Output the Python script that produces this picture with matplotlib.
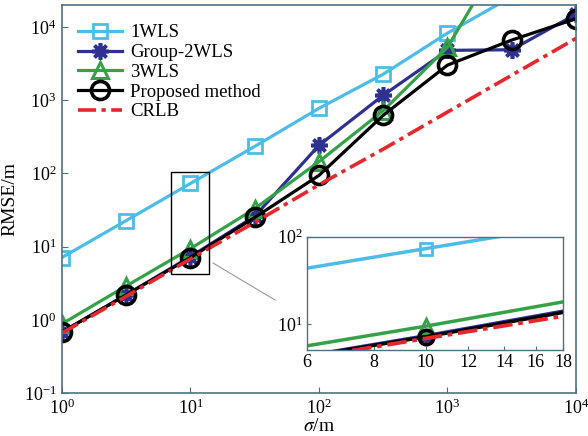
import numpy as np
import matplotlib
matplotlib.use("Agg")
import matplotlib.pyplot as plt
from matplotlib.patches import Rectangle
from matplotlib.lines import Line2D
from matplotlib.ticker import FixedLocator, FixedFormatter, NullLocator

plt.rcParams['font.family'] = ['Liberation Serif', 'DejaVu Serif']
plt.rcParams['mathtext.fontset'] = 'stix'
plt.rcParams['font.size'] = 13

sigma = [1, 3.162, 10, 31.62, 100, 316.2, 1000, 3162, 10000]
rmse_1wls = [7.1, 22.7, 73, 234, 776, 2270, 8270, 26000, 83000]
rmse_g2wls = [0.68, 2.2, 7.3, 26, 242, 1170, 4800, 4900, 15000]
rmse_3wls = [0.88, 2.9, 9.4, 33, 145, 720, 5300, 160000, 1000000]
rmse_prop = [0.68, 2.2, 7.1, 25, 94, 623, 3020, 6640, 13000]
rmse_crlb = [0.66, 2.1, 6.8, 21.5, 70, 215, 690, 2200, 7000]
inset_ticks = [6, 8, 10, 12, 14, 16, 18]

c_1wls = '#4cbde8'
c_g2 = '#2e3192'
c_3wls = '#35a24a'
c_crlb = '#e8262d'
frame_c = '#4f7282'

fig = plt.figure(figsize=(5.88, 4.36), dpi=100)
ax = fig.add_axes([0.1054, 0.0986, 0.8742, 0.8899])


def draw(a, ms=1.0, lw=2.3):
    a.plot(sigma, rmse_1wls, color=c_1wls, lw=lw, marker='s', ms=10 * ms,
           mfc='none', mew=2.0, label='1WLS')
    a.plot(sigma, rmse_g2wls, color=c_g2, lw=lw, marker=(8, 2, 0), ms=12 * ms,
           mew=2.6, label='Group-2WLS')
    a.plot(sigma, rmse_3wls, color=c_3wls, lw=lw, marker='^', ms=12 * ms,
           mfc='none', mew=2.2, label='3WLS')
    a.plot(sigma, rmse_prop, color='black', lw=lw, marker='o', ms=13 * ms,
           mfc='none', mew=2.6, label='Proposed method')
    a.plot(sigma, rmse_crlb, color=c_crlb, lw=lw + 0.3,
           ls=(0, (5, 1.5, 1.2, 1.5)), label='CRLB')


draw(ax)
ax.set_xscale('log')
ax.set_yscale('log')
ax.set_xlim(1, 1e4)
ax.set_ylim(0.1, 2.0e4)
ax.set_xticks([1, 10, 100, 1000, 10000])
ax.set_yticks([0.1, 1, 10, 100, 1000, 10000])
ax.minorticks_off()
ax.tick_params(direction='in', length=4, color=frame_c, pad=4, labelsize=13)
for s in ax.spines.values():
    s.set_color(frame_c)
    s.set_linewidth(1.2)
ax.set_xlabel(r'$\sigma$/m', labelpad=0, fontsize=14)
ax.set_ylabel('RMSE/m', labelpad=4, fontsize=14)

ax.legend(loc='upper left', frameon=False, handlelength=2.35, labelspacing=0.14,
          handletextpad=0.45, borderaxespad=0.3, bbox_to_anchor=(0.005, 0.984),
          fontsize=13.5)

# zoom window around sigma = 10
ax.add_patch(Rectangle((7.1, 4.2), 14 - 7.1, 106 - 4.2, fill=False,
                       ec='black', lw=1.0, zorder=5))
fig.add_artist(Line2D([213 / 588, 275 / 588], [1 - 263 / 436, 1 - 300 / 436],
                      color='#9a9a9a', lw=0.8))

ins = fig.add_axes([0.5216, 0.1972, 0.4359, 0.2599])
draw(ins, ms=0.8, lw=2.5)
ins.set_xscale('log')
ins.set_yscale('log')
ins.set_xlim(6, 18)
ins.set_ylim(5.0, 100)
ins.xaxis.set_major_locator(FixedLocator(inset_ticks))
ins.xaxis.set_major_formatter(FixedFormatter([str(t) for t in inset_ticks]))
ins.xaxis.set_minor_locator(NullLocator())
ins.set_yticks([10, 100])
ins.yaxis.set_minor_locator(NullLocator())
ins.tick_params(direction='in', length=3, color=frame_c, labelsize=13, pad=3)
for s in ins.spines.values():
    s.set_color(frame_c)
    s.set_linewidth(1.0)

fig.savefig('out.png', dpi=100)
